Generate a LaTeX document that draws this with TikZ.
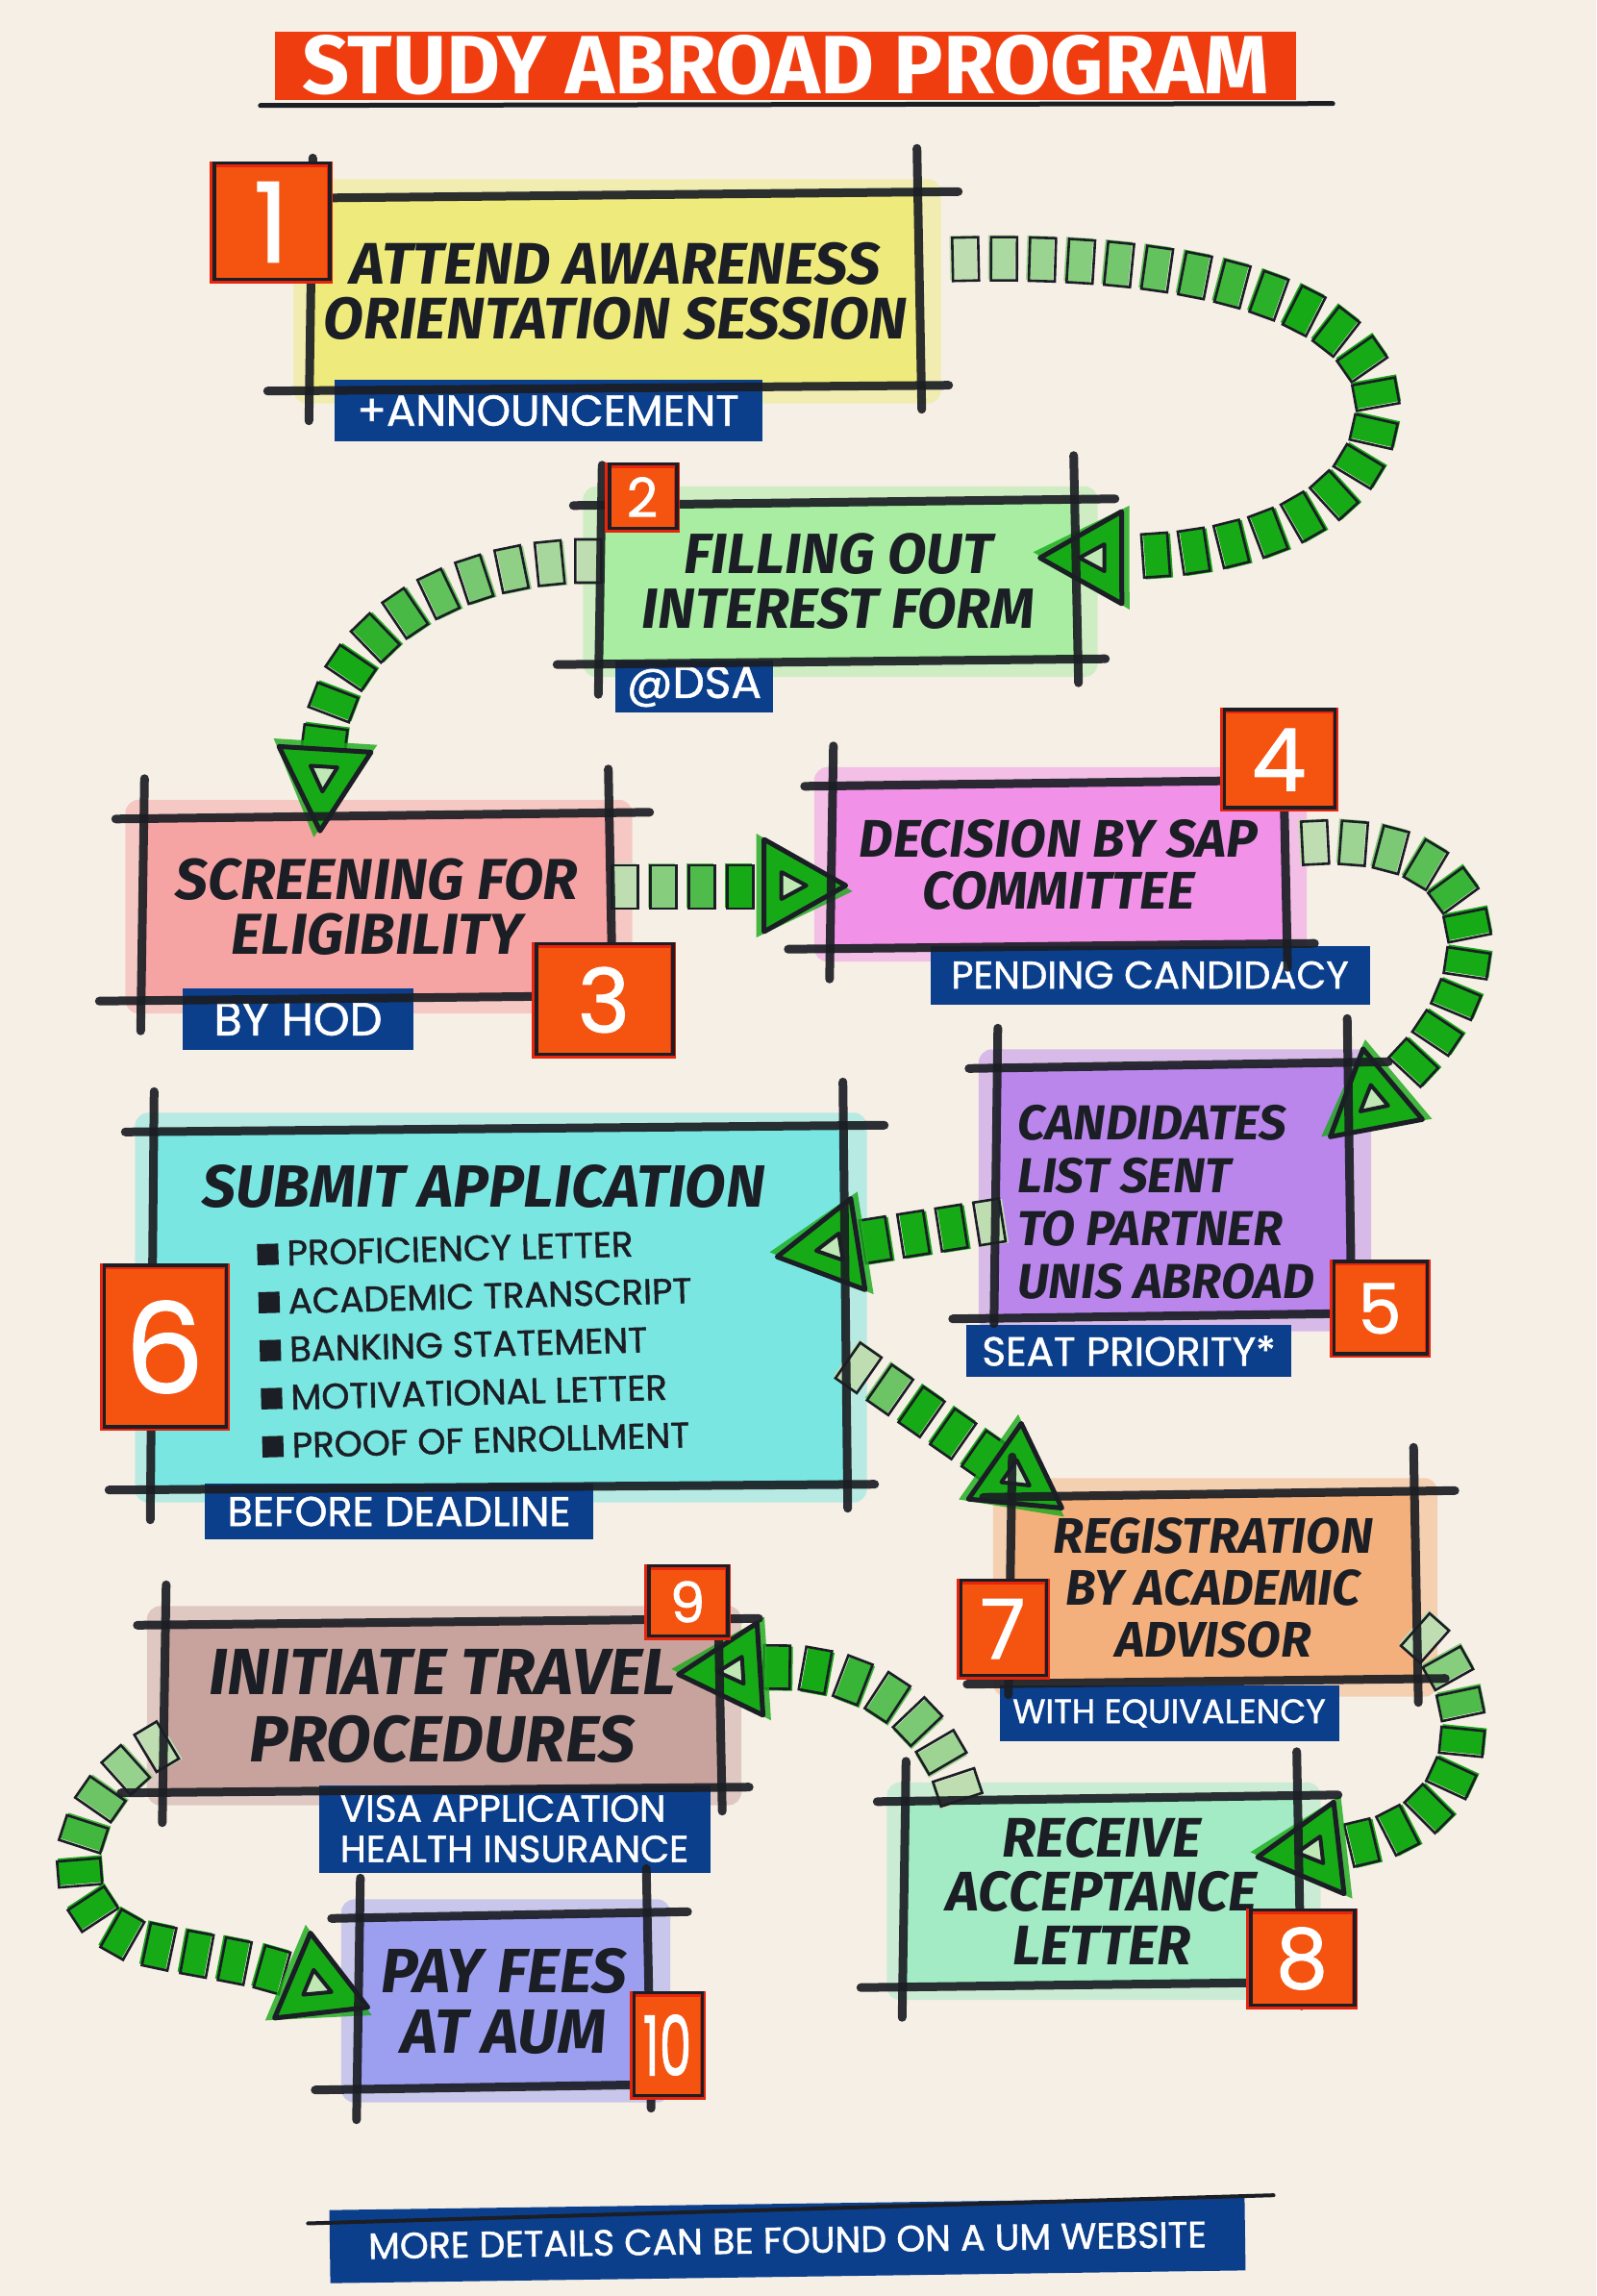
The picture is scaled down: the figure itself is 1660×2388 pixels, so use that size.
\documentclass[tikz,border=0pt]{standalone}
\usepackage{fontspec}
\setmainfont{Fira Sans}
\newfontfamily\tagf{Poppins}[FakeBold=1.2]
\usetikzlibrary{decorations.markings,calc}
\pgfdeclarelayer{back}
\pgfsetlayers{back,main}

\definecolor{bgc}{HTML}{F6EFE5}
\definecolor{ink}{HTML}{1B1E24}
\definecolor{navy}{HTML}{0B3F8C}
\definecolor{tred}{HTML}{F03D10}
\definecolor{badgef}{HTML}{F4540F}
\definecolor{badgee}{HTML}{E8240A}
\definecolor{gsq}{HTML}{17AA17}
\definecolor{glite}{HTML}{BFE8B4}
\definecolor{cA}{HTML}{EEEA7C}
\definecolor{cB}{HTML}{A8EDA2}
\definecolor{cC}{HTML}{F6A3A3}
\definecolor{cD}{HTML}{F291E8}
\definecolor{cE}{HTML}{BA86EC}
\definecolor{cF}{HTML}{7AE6E2}
\definecolor{cG}{HTML}{F3B07D}
\definecolor{cH}{HTML}{A2EBC4}
\definecolor{cI}{HTML}{C8A39E}
\definecolor{cJ}{HTML}{9C9EF0}

\newcommand\mf[2]{\bfseries\itshape\fontsize{#1}{#2}\selectfont}
\newcommand\tf[2]{\tagf\fontsize{#1}{#2}\selectfont}
\newcommand\bul{\raisebox{1pt}{\rule{22pt}{22pt}}\hspace{9pt}}
\gdef\fadeN{4}

\newcommand\sqmark{%
  \pgfmathtruncatemacro\gp{min(100,25+75*(\pgfkeysvalueof{/pgf/decoration/mark info/sequence number}-1)/\fadeN)}%
  \fill[gsq!\gp!bgc] (-14,-23) rectangle (14,23);
  \draw[line width=2.6pt, draw=ink] (-11,-21) rectangle (16,24);
}
\newcommand\arrmark{%
  \fill[gsq, opacity=0.8] (-8,-54) -- (-8,54) -- (92,6) -- cycle;
  \draw[line width=5pt, draw=ink, fill=gsq, line join=round] (0,-48) -- (0,48) -- (85,0) -- cycle;
  \draw[line width=4pt, draw=ink, fill=glite, line join=round] (18,-14) -- (18,14) -- (44,0) -- cycle;
}
\newcommand\halo[2]{%
  \begin{pgfonlayer}{back}
  \fill[#2, opacity=0.5, rounded corners=14pt] ($(#1.north west)+(-18,-16)$) rectangle ($(#1.south east)+(22,16)$);
  \end{pgfonlayer}}
\newcommand\frameit[2][34]{%
  \draw[sk] ($(#2.north west)+(-28,4)$) -- ($(#2.north east)+(40,-3)$);
  \draw[sk] ($(#2.south west)+(-45,3)$) -- ($(#2.south east)+(30,-3)$);
  \draw[sk] ($(#2.north west)+(2,-38)$) -- ($(#2.south west)+(-2,#1)$);
  \draw[sk] ($(#2.north east)+(-3,-48)$) -- ($(#2.south east)+(2,22)$);
}
\newcommand\badgeline[1]{%
  \draw[line width=3.5pt, draw=ink] ($(#1.north west)+(5,2)$) rectangle ($(#1.south east)+(-3,-4)$);
}

\tikzset{
  sk/.style={line width=9pt, draw=ink, line cap=round, opacity=0.92},
  boxn/.style={inner sep=0pt, align=center, text=ink},
  tagn/.style={fill=navy, text=white, inner sep=0pt, align=left},
  badge/.style={fill=badgef, draw=badgee, line width=6pt, inner sep=0pt, text=white},
  fadecount/.code={\gdef\fadeN{#1}},
  chain/.style={postaction={decorate}, decoration={markings,
     mark=between positions 0 and 0.99 step 40pt with {\sqmark},
     mark=at position 0.998 with {\arrmark}}},
}

\begin{document}
\begin{tikzpicture}[x=1pt,y=-1pt]
\begin{pgfonlayer}{back}
\fill[bgc] (0,0) rectangle (1660,2388);
\end{pgfonlayer}
\useasboundingbox (0,0) rectangle (1660,2388);

% ---------- title ----------
\node[fill=tred, minimum width=1062pt, minimum height=71pt, inner sep=0pt] (banner) at (817,68) {};
\node[text=white, font=\bfseries\fontsize{86}{86}\selectfont] (title) at (banner.center) {STUDY ABROAD PROGRAM};
\draw[line width=5pt, draw=ink, line cap=round] ($(banner.south west)+(-15,6)$) -- ($(banner.south east)+(38,4)$);

% ---------- boxes ----------
\node[boxn, fill=cA, minimum width=633pt, minimum height=201pt, font=\mf{61}{57}] (box1) at (640,303) {ATTEND AWARENESS\\ORIENTATION SESSION};
\node[boxn, fill=cB, minimum width=495pt, minimum height=166pt, font=\mf{59}{57}] (box2) at (872,605) {FILLING OUT\\INTEREST FORM};
\node[boxn, fill=cC, minimum width=487pt, minimum height=190pt, font=\mf{60}{57}] (box3) at (392,943) {SCREENING FOR\\ELIGIBILITY};
\node[boxn, fill=cD, minimum width=472pt, minimum height=170pt, font=\mf{55}{54}] (box4) at (1101,899) {DECISION BY SAP\\COMMITTEE};
\node[boxn, fill=cE, minimum width=368pt, minimum height=261pt] (box5) at (1220,1238) {};
\node[boxn, fill=cF, minimum width=721pt, minimum height=373pt] (box6) at (519,1360) {};
\node[boxn, fill=cG, minimum width=422pt, minimum height=195pt, font=\mf{52}{54}] (box7) at (1262,1651) {REGISTRATION\\BY ACADEMIC\\ADVISOR};
\node[boxn, fill=cH, minimum width=411pt, minimum height=194pt, font=\mf{58}{56}] (box8) at (1146,1967) {RECEIVE\\ACCEPTANCE\\LETTER};
\node[boxn, fill=cI, minimum width=578pt, minimum height=175pt, font=\mf{68}{70}] (box9) at (460,1774) {INITIATE TRAVEL\\PROCEDURES};
\node[boxn, fill=cJ, minimum width=302pt, minimum height=179pt, font=\mf{65}{63}] (box10) at (524,2081) {PAY FEES\\AT AUM};

\node[boxn, align=left, anchor=west, font=\mf{51}{55}] (text5) at (1058,1250) {CANDIDATES\\LIST SENT\\TO PARTNER\\UNIS ABROAD};
\node[boxn, font=\mf{62}{62}] (title6) at (503,1234) {SUBMIT APPLICATION};
\node[boxn, align=left, anchor=west, rotate=1.5, font=\tf{37}{50}] (list6) at (270,1404) {\bul PROFICIENCY LETTER\\\bul ACADEMIC TRANSCRIPT\\\bul BANKING STATEMENT\\\bul MOTIVATIONAL LETTER\\\bul PROOF OF ENROLLMENT};

\halo{box1}{cA}\halo{box2}{cB}\halo{box3}{cC}\halo{box4}{cD}\halo{box5}{cE}
\halo{box6}{cF}\halo{box7}{cG}\halo{box8}{cH}\halo{box9}{cI}\halo{box10}{cJ}

% ---------- tags ----------
\node[tagn, minimum width=445pt, minimum height=64pt, font=\tf{45}{45}] (tag1) at (570,427) {+ANNOUNCEMENT};
\node[tagn, minimum width=164pt, minimum height=54pt, font=\tf{47}{47}] (tag2) at (722,714) {@DSA};
\node[tagn, minimum width=240pt, minimum height=64pt, font=\tf{48}{48}] (tag3) at (310,1060) {BY HOD};
\node[tagn, minimum width=457pt, minimum height=61pt, font=\tf{40}{40}] (tag4) at (1196,1014) {PENDING CANDIDACY};
\node[tagn, minimum width=338pt, minimum height=54pt, font=\tf{42}{42}] (tag5) at (1174,1405) {SEAT PRIORITY*};
\node[tagn, minimum width=404pt, minimum height=58pt, font=\tf{43}{43}] (tag6) at (415,1572) {BEFORE DEADLINE};
\node[tagn, minimum width=353pt, minimum height=58pt, font=\tf{35}{35}] (tag7) at (1216,1782) {WITH EQUIVALENCY};
\node[tagn, minimum width=407pt, minimum height=91pt, font=\tf{39}{42}] (tag9) at (535,1902) {VISA APPLICATION\\HEALTH INSURANCE};
\node[tagn, minimum width=952pt, minimum height=76pt, rotate=0.8, font=\tf{38}{38}] (footer) at (819,2330) {MORE DETAILS CAN BE FOUND ON A UM WEBSITE};
\draw[line width=4pt, draw=ink, line cap=round] ($(footer.north west)+(-22,14)$) -- ($(footer.north east)+(30,-2)$);

% ---------- connectors ----------
\coordinate (e1) at (1165,580);
\coordinate (e2) at (338,780);
\coordinate (e3) at (795,921);
\coordinate (e4) at (1448,1128);
\coordinate (e5) at (892,1294);
\coordinate (e6) at (1035,1520);
\coordinate (e7) at (1392,1922);
\coordinate (e8) at (790,1736);
\coordinate (e9) at (305,2055);

\path[chain, fadecount=9] ($(box1.east)+(45,-35)$) .. controls (1290,262) and (1450,330) .. (1432,440) .. controls (1415,540) and (1290,580) .. (e1);
\path[chain, fadecount=7] ($(box2.west)+(-10,-20)$) .. controls (470,585) and (345,660) .. (e2);
\path[chain, fadecount=3] ($(box3.east)+(12,-22)$) -- (e3);
\path[chain, fadecount=5] ($(box4.east)+(28,-24)$) .. controls (1570,865) and (1565,1030) .. (e4);
\path[chain, fadecount=1] ($(box5.west)+(-4,34)$) -- (e5);
\path[chain, fadecount=2] ($(box6.east)+(12,60)$) -- (e6);
\path[chain, fadecount=3] ($(box7.east)+(8,50)$) .. controls (1548,1760) and (1545,1905) .. (e7);
\path[chain, fadecount=5] ($(box8.north west)+(55,-8)$) .. controls (965,1770) and (880,1730) .. (e8);
\path[chain, fadecount=4] ($(box9.south west)+(-5,-45)$) .. controls (60,1880) and (55,2000) .. (160,2022) .. controls (220,2035) and (270,2040) .. (e9);

% ---------- frames ----------
\frameit{box1}\frameit{box2}\frameit{box3}\frameit{box4}\frameit[8]{box5}
\frameit{box6}\frameit[14]{box7}\frameit{box8}\frameit{box9}\frameit{box10}

% ---------- badges ----------
\node[badge, minimum width=122pt, minimum height=121pt, font=\tf{115}{115}] (n1) at (282,231) {1};
\node[badge, minimum width=72pt, minimum height=67pt, font=\tf{56}{56}] (n2) at (668,517) {2};
\node[badge, minimum width=144pt, minimum height=115pt, font=\tf{92}{92}] (n3) at (628,1040) {3};
\node[badge, minimum width=117pt, minimum height=102pt, font=\tf{90}{90}] (n4) at (1330,790) {4};
\node[badge, minimum width=99pt, minimum height=96pt, font=\tf{72}{72}] (n5) at (1435,1361) {5};
\node[badge, minimum width=129pt, minimum height=168pt, font=\tf{130}{130}] (n6) at (171,1401) {6};
\node[badge, minimum width=91pt, minimum height=99pt, font=\tf{86}{86}] (n7) at (1043,1694) {7};
\node[badge, minimum width=110pt, minimum height=99pt, font=\tf{86}{86}] (n8) at (1354,2037) {8};
\node[badge, minimum width=84pt, minimum height=73pt, font=\tf{58}{58}] (n9) at (715,1666) {9};
\node[badge, minimum width=73pt, minimum height=107pt, font=\tf{86}{86}] (n10) at (694,2127) {\scalebox{0.62}[1]{10}};
\badgeline{n1}\badgeline{n2}\badgeline{n3}\badgeline{n4}\badgeline{n5}
\badgeline{n6}\badgeline{n7}\badgeline{n8}\badgeline{n9}\badgeline{n10}
\end{tikzpicture}
\end{document}
